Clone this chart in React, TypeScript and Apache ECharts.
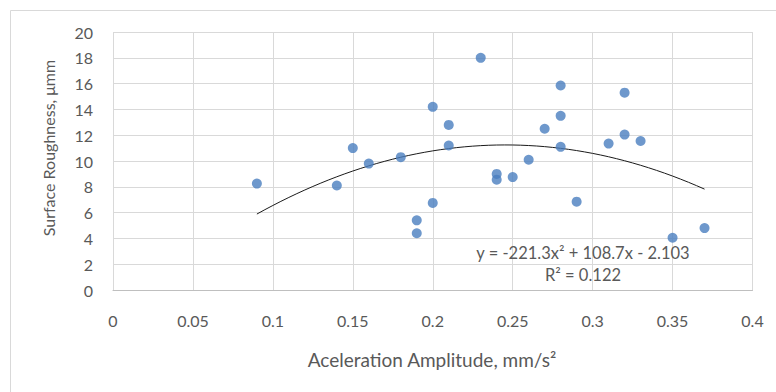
import React, { useEffect, useRef } from "react";
import * as echarts from "echarts";

const accelerationX: number[] = [
  0.09, 0.14, 0.15, 0.16, 0.18, 0.19, 0.19, 0.2, 0.2, 0.21, 0.21, 0.23, 0.24, 0.24,
  0.25, 0.26, 0.27, 0.28, 0.28, 0.28, 0.29, 0.31, 0.32, 0.32, 0.33, 0.35, 0.37,
];
const roughnessY: number[] = [
  8.25, 8.1, 11.0, 9.8, 10.3, 5.4, 4.4, 14.2, 6.75, 12.8, 11.2, 18.0, 9.0, 8.55,
  8.75, 10.1, 12.5, 15.85, 13.5, 11.1, 6.85, 11.35, 15.3, 12.05, 11.55, 4.05, 4.8,
];
const xTicks: number[] = [0, 0.05, 0.1, 0.15, 0.2, 0.25, 0.3, 0.35, 0.4];
const yTicks: number[] = [0, 2, 4, 6, 8, 10, 12, 14, 16, 18, 20];
// Polynomial trendline coefficients shown in the chart label (a, b, c for ax² + bx + c)
const trendCoefficients: number[] = [-221.3, 108.7, -2.103];
const trendRange: number[] = [0.09, 0.37];
const equationText = "y = -221.3x² + 108.7x - 2.103";
const r2Text = "R² = 0.122";
const xAxisTitle = "Aceleration Amplitude, mm/s²";
const yAxisTitle = "Surface Roughness, μmm";

export default function App() {
  const ref = useRef<HTMLDivElement>(null);
  useEffect(() => {
    if (!ref.current) return;
    const chart = echarts.init(ref.current, undefined, { renderer: "svg" });
    const points = accelerationX.map((x, i) => [x, roughnessY[i]]);
    const trend: number[][] = [];
    const [a, b, c] = trendCoefficients;
    const steps = 56;
    for (let i = 0; i <= steps; i++) {
      const x = trendRange[0] + ((trendRange[1] - trendRange[0]) * i) / steps;
      trend.push([x, a * x * x + b * x + c]);
    }
    const font = "Lato";
    const textColor = "#595959";
    chart.setOption({
      animation: false,
      backgroundColor: "#ffffff",
      textStyle: { fontFamily: font },
      grid: {
        left: 113,
        top: 32,
        right: 23.5,
        bottom: 102,
        containLabel: false,
        outerBoundsMode: "none",
      },
      xAxis: {
        type: "value",
        min: xTicks[0],
        max: xTicks[xTicks.length - 1],
        interval: xTicks[1] - xTicks[0],
        axisLine: { show: true, lineStyle: { color: "#bfbfbf", width: 1 } },
        axisTick: { show: false },
        axisLabel: {
          color: textColor,
          fontSize: 16,
          fontFamily: font,
          margin: 22,
          formatter: (v: number) => String(+v.toFixed(2)),
        },
        splitLine: { show: true, lineStyle: { color: "#d9d9d9", width: 1 } },
      },
      yAxis: {
        type: "value",
        min: yTicks[0],
        max: yTicks[yTicks.length - 1],
        interval: yTicks[1] - yTicks[0],
        axisLine: { show: false },
        axisTick: { show: false },
        axisLabel: {
          color: textColor,
          fontSize: 16,
          fontFamily: font,
          margin: 20,
        },
        splitLine: { show: true, lineStyle: { color: "#d9d9d9", width: 1 } },
      },
      graphic: [
        {
          type: "rect",
          shape: { x: 10.5, y: 10.5, width: 900, height: 600 },
          style: { fill: "none", stroke: "#d9d9d9", lineWidth: 1 },
          silent: true,
          z: -10,
        },
        {
          type: "text",
          x: 48,
          y: 148,
          rotation: Math.PI / 2,
          style: {
            text: yAxisTitle,
            fill: textColor,
            font: `16px ${font}`,
            align: "center",
            verticalAlign: "middle",
          },
        },
        {
          type: "text",
          x: 432,
          y: 359,
          style: {
            text: xAxisTitle,
            fill: textColor,
            font: `19px ${font}`,
            align: "center",
            verticalAlign: "middle",
          },
        },
        {
          type: "text",
          x: 583,
          y: 253,
          style: {
            text: equationText,
            fill: textColor,
            font: `16.5px ${font}`,
            align: "center",
            verticalAlign: "middle",
          },
          z: 10,
        },
        {
          type: "text",
          x: 583,
          y: 275,
          style: {
            text: r2Text,
            fill: textColor,
            font: `16.5px ${font}`,
            align: "center",
            verticalAlign: "middle",
          },
          z: 10,
        },
      ],
      series: [
        {
          type: "scatter",
          data: points,
          symbol: "circle",
          symbolSize: 10,
          itemStyle: { color: "#4a7ebf" },
          z: 3,
        },
        {
          type: "line",
          data: trend,
          showSymbol: false,
          smooth: false,
          lineStyle: { color: "#1a1a1a", width: 1 },
          z: 2,
        },
      ],
    });
    return () => chart.dispose();
  }, []);
  return (
    <div
      ref={ref}
      style={{ position: "fixed", left: 0, top: 0, width: 776, height: 392 }}
    />
  );
}
